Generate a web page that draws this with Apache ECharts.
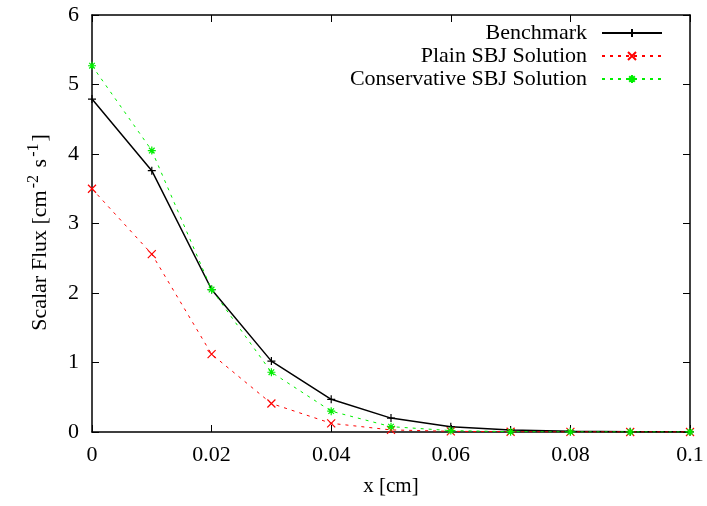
<!DOCTYPE html>
<html><head><meta charset="utf-8">
<script src="https://cdn.jsdelivr.net/npm/echarts@6/dist/echarts.min.js"></script>
<style>html,body{margin:0;padding:0;background:#fff}#c{width:707px;height:506px}</style>
</head><body><div id="c"></div>
<script>
var xs = [0, 0.01, 0.02, 0.03, 0.04, 0.05, 0.06, 0.07, 0.08, 0.09, 0.1];
var benchmark = [4.79, 3.76, 2.05, 1.02, 0.47, 0.20, 0.077, 0.03, 0.012, 0.005, 0.002];
var plainSBJ = [3.50, 2.56, 1.12, 0.41, 0.125, 0.03, 0.01, 0.003, 0.001, 0.0005, 0.0002];
var conservativeSBJ = [5.27, 4.05, 2.05, 0.86, 0.30, 0.077, 0.02, 0.005, 0.002, 0.001, 0.0005];
var seriesNames = ['Benchmark', 'Plain SBJ Solution', 'Conservative SBJ Solution'];

var FONT = 'Liberation Serif';
var FS = 22;
var plusSym = 'path://M0,5H10M5,0V10';
var crossSym = 'path://M1,1L9,9M9,1L1,9';
var starSym = 'path://M0,5H10M5,0V10M1.5,1.5L8.5,8.5M8.5,1.5L1.5,8.5';

function pairs(arr){ return xs.map(function(x,i){ return [x, arr[i]]; }); }

function mkSeries(name, data, color, sym, lineType, width){
  return {
    name: name, type: 'line', data: pairs(data),
    symbol: sym, symbolSize: 8, showAllSymbol: true,
    lineStyle: {color: color, width: width, type: lineType},
    itemStyle: {color: color, borderColor: color, borderWidth: 1.2},
    emphasis: {disabled: true}, animation: false
  };
}

var chart = echarts.init(document.getElementById('c'));
function axisCommon(){
  return {
    axisLine: {show: true, onZero: false, lineStyle: {color: '#000', width: 1.5}},
    axisTick: {show: true, inside: true, length: 7, lineStyle: {color: '#000', width: 1}},
    splitLine: {show: false}
  };
}
chart.setOption({
  backgroundColor: '#fff',
  animation: false,
  grid: {left: 92, right: 17, top: 15, bottom: 74},
  legend: {
    orient: 'vertical', right: 44, top: 22, align: 'right', padding: 0,
    itemWidth: 60, itemHeight: 10, itemGap: 1,
    textStyle: {fontFamily: FONT, fontSize: FS, color: '#000', padding: [0, 10, 0, 0]},
    data: seriesNames
  },
  xAxis: [
    Object.assign(axisCommon(), {
      type: 'value', min: 0, max: 0.1, interval: 0.02, position: 'bottom',
      name: 'x [cm]', nameLocation: 'middle', nameGap: 44,
      nameTextStyle: {fontFamily: FONT, fontSize: 21, color: '#000'},
      axisLabel: {fontFamily: FONT, fontSize: FS, color: '#000', margin: 12}
    }),
    Object.assign(axisCommon(), {
      type: 'value', min: 0, max: 0.1, interval: 0.02, position: 'top',
      axisLabel: {show: false}
    })
  ],
  yAxis: [
    Object.assign(axisCommon(), {
      type: 'value', min: 0, max: 6, interval: 1, position: 'left',
      name: '{a|Scalar Flux [cm}{s|-2}{a| s}{s|-1}{a|]}',
      nameLocation: 'middle', nameGap: 38,
      nameTextStyle: {
        fontFamily: FONT, fontSize: FS, color: '#000', padding: [0, 18, 0, 0],
        rich: {
          a: {fontFamily: FONT, fontSize: FS, color: '#000'},
          s: {fontFamily: FONT, fontSize: 16, color: '#000', verticalAlign: 'top', padding: [0, 2, 12, 2]}
        }
      },
      axisLabel: {fontFamily: FONT, fontSize: FS, color: '#000', margin: 13}
    }),
    Object.assign(axisCommon(), {
      type: 'value', min: 0, max: 6, interval: 1, position: 'right',
      axisLabel: {show: false}
    })
  ],
  series: [
    mkSeries(seriesNames[0], benchmark, '#000000', plusSym, 'solid', 1.5),
    mkSeries(seriesNames[1], plainSBJ, '#ff0000', crossSym, [3, 5], 1),
    mkSeries(seriesNames[2], conservativeSBJ, '#00ee00', starSym, [3, 5], 1),
    {type: 'line', xAxisIndex: 1, yAxisIndex: 1, data: [], silent: true, symbol: 'none'}
  ]
});
</script></body></html>
